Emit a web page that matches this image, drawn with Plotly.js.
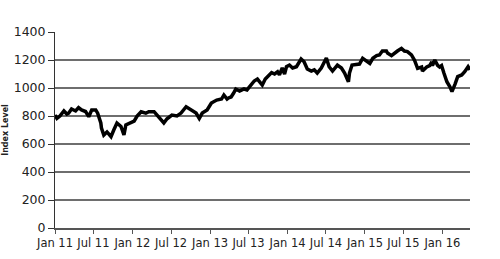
<!DOCTYPE html>
<html>
<head>
<meta charset="utf-8">
<script src="https://cdn.plot.ly/plotly-3.0.1.min.js"></script>
<style>html,body{margin:0;padding:0;background:#fff;}#chart{width:500px;height:259px;}</style>
</head>
<body>
<div id="chart"></div>
<script>
var dates = [
"2011-01-01","2011-01-10","2011-01-24","2011-02-12","2011-02-26","2011-03-06","2011-03-20","2011-04-08","2011-04-22","2011-05-06",
"2011-05-25","2011-06-09","2011-06-23","2011-07-12","2011-07-21","2011-08-05","2011-08-08","2011-08-19","2011-09-03","2011-09-22",
"2011-10-05","2011-10-20","2011-11-08","2011-11-22","2011-12-01","2011-12-25","2012-01-09","2012-01-23","2012-02-11","2012-03-04",
"2012-03-18","2012-04-12","2012-04-26","2012-05-19","2012-05-28","2012-06-12","2012-07-05","2012-07-29","2012-08-17","2012-09-10",
"2012-10-03","2012-10-27","2012-11-11","2012-11-25","2012-12-18","2013-01-07","2013-02-01","2013-02-24","2013-03-07","2013-03-22",
"2013-03-29","2013-04-10","2013-04-22","2013-05-02","2013-05-20","2013-06-10","2013-06-24","2013-07-13","2013-07-28","2013-08-12",
"2013-08-26","2013-09-04","2013-09-18","2013-10-05","2013-10-18","2013-11-01","2013-11-15","2013-11-24","2013-12-07","2013-12-18",
"2013-12-27","2014-01-10","2014-01-25","2014-02-12","2014-02-27","2014-03-06","2014-03-20","2014-04-04","2014-04-23","2014-05-07",
"2014-05-21","2014-06-09","2014-07-03","2014-07-16","2014-08-01","2014-08-24","2014-09-12","2014-09-27","2014-10-15","2014-10-20",
"2014-11-01","2014-11-22","2014-12-06","2014-12-21","2015-01-09","2015-01-24","2015-02-07","2015-02-25","2015-03-10","2015-03-24",
"2015-04-12","2015-04-17","2015-05-06","2015-05-19","2015-06-03","2015-06-22","2015-07-06","2015-07-20","2015-08-08","2015-08-22",
"2015-09-06","2015-09-25","2015-09-29","2015-10-19","2015-11-02","2015-11-12","2015-11-15","2015-11-26","2015-12-10","2015-12-19",
"2015-12-28","2016-01-08","2016-01-22","2016-02-06","2016-02-15","2016-03-01","2016-03-13","2016-04-01","2016-04-15","2016-05-01",
"2016-05-10"
];
var indexLevel = [
807,783,800,836,814,820,850,836,860,843,
832,795,843,843,820,750,714,664,686,652,
700,750,725,664,736,750,764,800,830,820,
831,831,807,760,750,780,807,800,821,866,
843,821,783,821,843,893,914,921,950,921,
929,936,964,993,979,993,986,1021,1050,1064,
1036,1021,1064,1093,1110,1100,1116,1093,1143,1100,
1152,1164,1143,1152,1188,1207,1188,1136,1121,1130,
1107,1143,1214,1152,1121,1164,1143,1107,1045,1107,
1164,1171,1171,1212,1190,1176,1212,1231,1236,1264,
1264,1250,1231,1250,1264,1283,1264,1260,1236,1200,
1140,1150,1121,1150,1160,1186,1160,1200,1160,1150,
1160,1107,1045,1007,974,1030,1081,1093,1116,1152,
1130
];
var tickDates = ["2011-01-01","2011-07-01","2012-01-01","2012-07-01","2013-01-01","2013-07-01","2014-01-01","2014-07-01","2015-01-01","2015-07-01","2016-01-01"];
var tickLabels = ["Jan 11","Jul 11","Jan 12","Jul 12","Jan 13","Jul 13","Jan 14","Jul 14","Jan 15","Jul 15","Jan 16"];
var yTicks = [0,200,400,600,800,1000,1200,1400];

var trace = {
  x: dates, y: indexLevel, type: "scatter", mode: "lines",
  line: {color: "#000", width: 3.5, shape: "linear"},
  hoverinfo: "skip"
};
var layout = {
  width: 500, height: 259,
  margin: {l: 55, r: 30, t: 32, b: 31},
  paper_bgcolor: "#fff", plot_bgcolor: "#fff",
  showlegend: false,
  font: {family: "DejaVu Sans, sans-serif", size: 12, color: "#222"},
  xaxis: {
    type: "date",
    range: ["2011-01-01", "2016-05-10"],
    tickmode: "array", tickvals: tickDates, ticktext: tickLabels,
    tickangle: 0,
    showgrid: false, zeroline: false,
    showline: true, linecolor: "#555", linewidth: 1.5,
    ticks: "outside", ticklen: 4, tickcolor: "#555", tickwidth: 1,
    tickfont: {size: 11.5, color: "#222"},
    fixedrange: true
  },
  yaxis: {
    range: [0, 1400],
    tickmode: "array", tickvals: yTicks,
    showgrid: true, gridcolor: "#6e6e6e", gridwidth: 1.5,
    zeroline: false,
    showline: true, linecolor: "#333", linewidth: 1,
    ticks: "outside", ticklen: 6, tickcolor: "#333", tickwidth: 1,
    tickfont: {size: 12.5, color: "#222"},
    title: {text: "<b>Index Level</b>", font: {size: 8, color: "#222"}, standoff: 3},
    fixedrange: true
  }
};
Plotly.newPlot("chart", [trace], layout, {displayModeBar: false, staticPlot: true});
</script>
</body>
</html>
